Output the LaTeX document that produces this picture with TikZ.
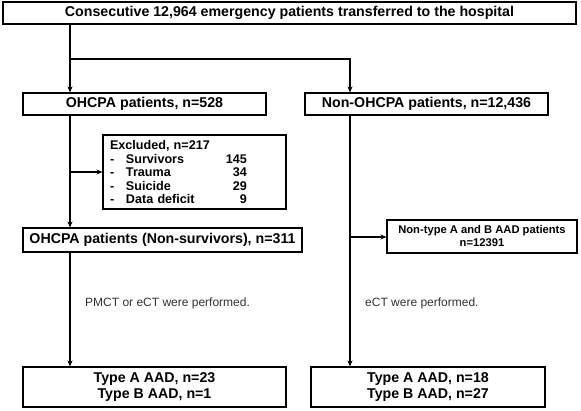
\documentclass[tikz,border=0pt]{standalone}
\usepackage{fontspec}
\setmainfont{Liberation Sans}
\usetikzlibrary{arrows.meta}
\begin{document}
\begin{tikzpicture}[x=1pt,y=-1pt,
  box/.style={draw,line width=1.1pt,inner sep=0pt,font=\bfseries\fontsize{14.2}{16.5}\selectfont,align=center},
  conn/.style={line width=1.1pt},
  arr/.style={conn,-{Stealth[length=6pt,width=5pt]}},
  note/.style={font=\fontsize{12}{14}\selectfont,text=black!80,anchor=west,inner sep=0pt}]
\useasboundingbox (0,0) rectangle (581,411);
\node[box,minimum width=573pt,minimum height=22pt] (top) at (289.5,13) {Consecutive 12,964 emergency patients transferred to the hospital};
\node[box,minimum width=243pt,minimum height=22pt] (ohcpa) at (144.5,104) {OHCPA patients, n=528};
\node[box,minimum width=243pt,minimum height=22pt] (non) at (426.5,104) {Non-OHCPA patients, n=12,436};
\node[box,minimum width=183pt,minimum height=74pt,font=\bfseries\fontsize{12.6}{13.5}\selectfont,align=left,text width=169pt] (excl) at (194.5,172) {%
Excluded, n=217\\
\makebox[16pt][l]{-}\makebox[96pt][l]{Survivors}\makebox[25pt][r]{145}\\
\makebox[16pt][l]{-}\makebox[96pt][l]{Trauma}\makebox[25pt][r]{34}\\
\makebox[16pt][l]{-}\makebox[96pt][l]{Suicide}\makebox[25pt][r]{29}\\
\makebox[16pt][l]{-}\makebox[96pt][l]{Data deficit}\makebox[25pt][r]{9}};
\node[box,minimum width=279pt,minimum height=24pt] (nonsurv) at (162.5,240) {OHCPA patients (Non-survivors), n=311};
\node[box,minimum width=190pt,minimum height=33pt,font=\bfseries\fontsize{11.2}{13}\selectfont] (nontype) at (482,236.5) {Non-type A and B AAD patients\\n=12391};
\node[box,minimum width=263pt,minimum height=40pt] (botL) at (154.5,387) {Type A AAD, n=23\\Type B AAD, n=1};
\node[box,minimum width=234pt,minimum height=40pt] (botR) at (428,387) {Type A AAD, n=18\\Type B AAD, n=27};
\node[note] (pmct) at (85,303) {PMCT or eCT were performed.};
\node[note] (ect) at (365,303) {eCT were performed.};
\coordinate (br) at (70,59);
\coordinate (rb) at (350,59);
\coordinate (bx) at (70,172);
\coordinate (ry) at (350,237);
\draw[arr] (top.south -| br) -- (ohcpa.north -| br);
\draw[arr] (br) -- (rb) -- (non.north -| rb);
\draw[arr] (ohcpa.south -| br) -- (nonsurv.north -| br);
\draw[arr] (bx) -- (bx -| excl.west);
\draw[arr] (nonsurv.south -| br) -- (botL.north -| br);
\draw[arr] (non.south -| ry) -- (botR.north -| ry);
\draw[arr] (ry) -- (ry -| nontype.west);
\end{tikzpicture}
\end{document}
